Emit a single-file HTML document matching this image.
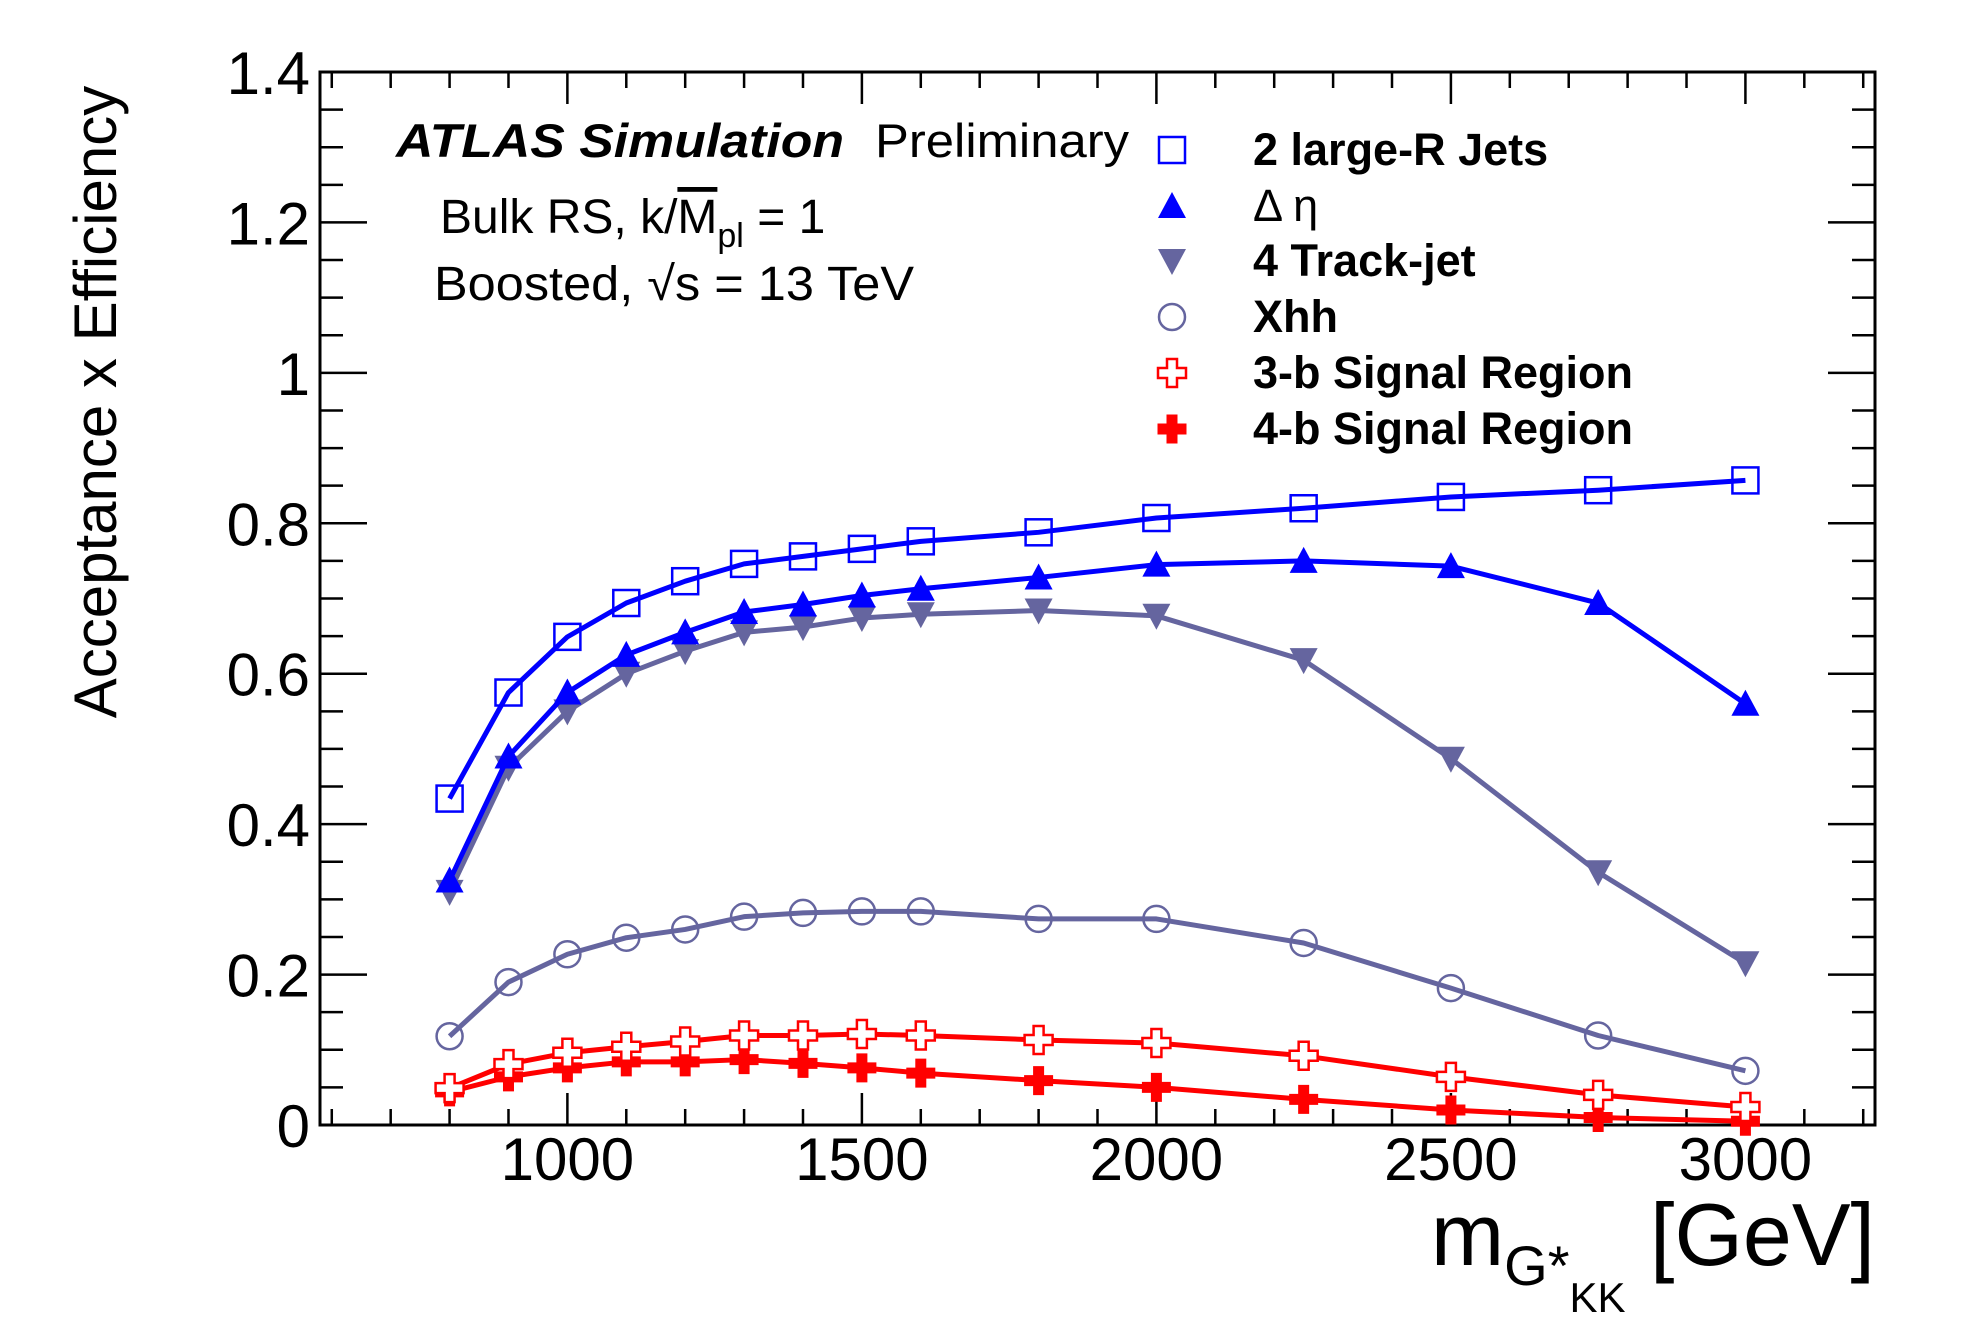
<!DOCTYPE html>
<html><head><meta charset="utf-8"><style>
html,body{margin:0;padding:0;background:#fff}
svg{display:block;font-family:"Liberation Sans",Arial,sans-serif}
</style></head><body>
<svg id="chart" width="1979" height="1344" viewBox="0 0 1979 1344" xmlns="http://www.w3.org/2000/svg">
<g id="axes"></g>
<g id="series"></g>
<text x="396" y="157" font-size="47" font-weight="bold" font-style="italic" textLength="448" lengthAdjust="spacingAndGlyphs">ATLAS Simulation</text>
<text x="875" y="157" font-size="47" textLength="254" lengthAdjust="spacingAndGlyphs">Preliminary</text>
<text x="440" y="233" font-size="48">Bulk RS, k/<tspan text-decoration="overline">M</tspan><tspan font-size="34" dy="14">pl</tspan><tspan dy="-14"> = 1</tspan></text>
<text x="434" y="300" font-size="48" textLength="480" lengthAdjust="spacingAndGlyphs">Boosted, √s = 13 TeV</text>
<text transform="translate(116,402) rotate(-90)" text-anchor="middle" font-size="60">Acceptance x Efficiency</text>
<text x="1875" y="1265" text-anchor="end" font-size="88">m<tspan font-size="56" dy="20">G*</tspan><tspan font-size="42" dy="27">KK</tspan><tspan dy="-47"> [GeV]</tspan></text>
<g id="legend"></g>
</svg>
<script>
const masses = [800,900,1000,1100,1200,1300,1400,1500,1600,1800,2000,2250,2500,2750,3000];
const largeRJets = [0.434,0.575,0.649,0.694,0.723,0.746,0.756,0.766,0.776,0.788,0.807,0.820,0.835,0.844,0.857];
const deltaEta = [0.325,0.490,0.575,0.625,0.655,0.682,0.692,0.704,0.713,0.728,0.745,0.750,0.743,0.694,0.560];
const trackJet4 = [0.310,0.475,0.550,0.600,0.630,0.655,0.662,0.674,0.679,0.684,0.677,0.618,0.487,0.336,0.215];
const xhh = [0.118,0.190,0.227,0.249,0.260,0.277,0.282,0.284,0.284,0.274,0.274,0.242,0.182,0.119,0.072];
const sr3b = [0.049,0.081,0.096,0.104,0.111,0.119,0.119,0.121,0.119,0.113,0.109,0.092,0.064,0.040,0.024];
const sr4b = [0.044,0.064,0.076,0.084,0.084,0.087,0.082,0.076,0.069,0.059,0.050,0.034,0.020,0.010,0.005];
const xTickLabels = [1000,1500,2000,2500,3000];
const yTickLabels = ["0","0.2","0.4","0.6","0.8","1","1.2","1.4"];
const legendLabels = ["2 large-R Jets","Δ  η","4 Track-jet","Xhh","3-b Signal Region","4-b Signal Region"];

const X0=320,X1=1875,Y0=1125,Y1=72,XMIN=580,XMAX=3220,YMIN=0,YMAX=1.4;
const sx=v=>X0+(v-XMIN)/(XMAX-XMIN)*(X1-X0);
const sy=v=>Y0-(v-YMIN)/(YMAX-YMIN)*(Y0-Y1);
const NS="http://www.w3.org/2000/svg";
function mk(tag,attrs,parent){const e=document.createElementNS(NS,tag);for(const k in attrs)e.setAttribute(k,attrs[k]);parent.appendChild(e);return e;}
const axes=document.getElementById('axes');
const fr=mk('rect',{x:X0,y:Y1,width:X1-X0,height:Y0-Y1,fill:'none',stroke:'#000','stroke-width':3},axes);


for(let v=600;v<=3200;v+=100){
  const major=v%500===0, L=major?32:16, x=sx(v);
  const t=mk('path',{d:`M${x},${Y0}v${-L}M${x},${Y1}v${L}`,stroke:'#000','stroke-width':2.5},axes);
  
  
}
for(let i=0;i<=28;i++){
  const v=i*0.05, major=i%4===0, L=major?47:23, y=sy(v);
  const t=mk('path',{d:`M${X0},${y}h${L}M${X1},${y}h${-L}`,stroke:'#000','stroke-width':2.5},axes);
  
  
}
xTickLabels.forEach(v=>{
  const t=mk('text',{x:sx(v),y:1180,'text-anchor':'middle','font-size':60},axes);t.textContent=v;
  
  
});
yTickLabels.forEach((s,i)=>{
  const t=mk('text',{x:310,y:sy(i*0.2)+22,'text-anchor':'end','font-size':60},axes);t.textContent=s;
  
  
});
const BLUE='#0000ff',GRAY='#65659f',RED='#ff0000';
function marker(type,cx,cy,col,g){
  let e;
  if(type==='sq') e=mk('rect',{x:cx-13,y:cy-13,width:26,height:26,fill:'none',stroke:col,'stroke-width':2.5},g);
  else if(type==='tu') e=mk('path',{d:`M${cx},${cy-14}L${cx+14},${cy+12}L${cx-14},${cy+12}Z`,fill:col},g);
  else if(type==='td') e=mk('path',{d:`M${cx},${cy+14}L${cx+14},${cy-12}L${cx-14},${cy-12}Z`,fill:col},g);
  else if(type==='ci') e=mk('circle',{cx,cy,r:13,fill:'none',stroke:col,'stroke-width':2.5},g);
  else { const a=5,b=14; e=mk('path',{d:`M${cx-a},${cy-b}h${2*a}v${b-a}h${b-a}v${2*a}h${a-b}v${b-a}h${-2*a}v${a-b}h${a-b}v${-2*a}h${b-a}Z`,fill:type==='cf'?col:'#fff',stroke:col,'stroke-width':type==='cf'?1:2.5},g); }
  return e;
}
const seriesG=document.getElementById('series');
const defs=[[sr4b,'cf',RED,'series-4b-sr'],[sr3b,'co',RED,'series-3b-sr'],[xhh,'ci',GRAY,'series-xhh'],[trackJet4,'td',GRAY,'series-4-track-jet'],[deltaEta,'tu',BLUE,'series-delta-eta'],[largeRJets,'sq',BLUE,'series-2-large-r-jets']];
defs.forEach(([vals,type,col,name])=>{
  const g=mk('g',{},seriesG);
  
  
  const pl=mk('polyline',{points:masses.map((m,i)=>sx(m)+','+sy(vals[i])).join(' '),fill:'none',stroke:col,'stroke-width':5,'stroke-linejoin':'round'},g);
  
  
  masses.forEach((m,i)=>{
    const e=marker(type,sx(m),sy(vals[i]),col,g);
    
    
  });
});
const lg=document.getElementById('legend');
const legTypes=[['sq',BLUE],['tu',BLUE],['td',GRAY],['ci',GRAY],['co',RED],['cf',RED]];
const legY=[150,206,261,317,373,429];
legendLabels.forEach((s,i)=>{
  const m=marker(legTypes[i][0],1172,legY[i],legTypes[i][1],lg);
  
  
  const t=mk('text',{x:1253,y:legY[i]+15,'font-size':45,'font-weight':i===1?'normal':'bold'},lg);
  t.textContent=s;
  
  
});
</script>
</body></html>
